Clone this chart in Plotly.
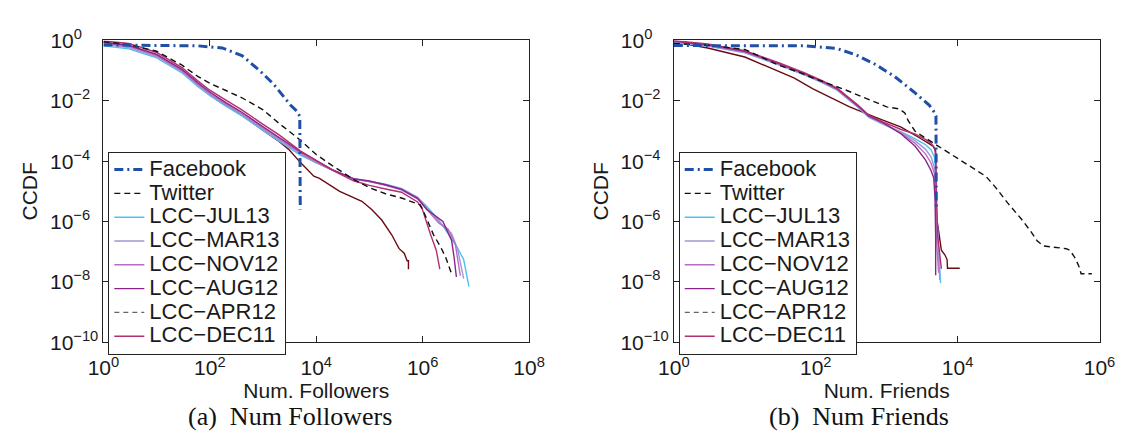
import plotly.graph_objects as go

# ---------------- Panel (a): Num. Followers ----------------
fb_fol_x = [1, 10, 60, 170, 400, 900, 1600, 3300, 4400, 4900, 5000]
fb_fol_y = [0.708, 0.692, 0.661, 0.562, 0.316, 0.0933, 0.0347, 7.08e-3, 4.37e-3, 3.02e-3, 2.51e-6]

tw_fol_x = [1, 3, 10, 30, 60, 100, 200, 400, 1000, 2000, 5000, 1e4, 2e4, 5e4, 1e5, 2e5, 4e5,
            9e5, 1e6, 1.6e6, 2.2e6, 2.7e6, 3.5e6]
tw_fol_y = [0.912, 0.724, 0.437, 0.151, 0.0631, 0.0380, 0.0219, 0.0126, 5.01e-3, 1.78e-3, 5.01e-4,
            1.66e-4, 7.08e-5, 2.51e-5, 1.32e-5, 8.32e-6, 6.03e-6, 3.55e-6, 2.51e-6, 3.63e-7, 1.38e-7,
            6.61e-8, 1.82e-8]

jul13_fol_x = [1, 3, 10, 30, 60, 100, 200, 400, 1000, 2000, 5000, 1e4, 2e4, 5e4, 1e5, 2e5, 4e5, 8e5,
               1.2e6, 2e6, 3e6, 4.4e6, 5.9e6, 6.5e6, 7.4e6]
jul13_fol_y = [0.661, 0.525, 0.263, 0.0832, 0.0295, 0.0148, 6.61e-3, 3.16e-3, 1.05e-3, 4.68e-4, 1.58e-4,
               8.71e-5, 5.01e-5, 2.63e-5, 2.19e-5, 1.74e-5, 1.26e-5, 6.31e-6,
               3.16e-6, 1.12e-6, 3.98e-7, 1.45e-7, 5.50e-8, 2.00e-8, 6.92e-9]

mar13_fol_x = [1, 3, 10, 30, 60, 100, 200, 400, 1000, 2000, 5000, 1e4, 2e4, 5e4, 1e5, 2e5, 4e5, 8e5,
               1.2e6, 2e6, 3.5e6, 4.5e6, 5.9e6]
mar13_fol_y = [0.724, 0.575, 0.288, 0.0912, 0.0324, 0.0162, 7.24e-3, 3.47e-3, 1.15e-3, 5.13e-4, 1.74e-4,
               8.91e-5, 5.01e-5, 2.63e-5, 2.14e-5, 1.66e-5, 1.20e-5, 6.31e-6,
               2.82e-6, 1.00e-6, 3.98e-7, 1.26e-7, 1.29e-8]

nov12_fol_x = [1, 3, 10, 30, 60, 100, 200, 400, 1000, 2000, 5000, 1e4, 2e4, 5e4, 1e5, 2e5, 4e5, 8e5,
               1.2e6, 2e6, 3e6, 4.1e6, 4.6e6, 5.1e6]
nov12_fol_y = [0.794, 0.631, 0.316, 0.100, 0.0355, 0.0178, 7.94e-3, 3.80e-3, 1.26e-3, 5.62e-4, 1.91e-4,
               9.55e-5, 5.01e-5, 2.51e-5, 2.09e-5, 1.58e-5, 1.12e-5, 5.62e-6,
               2.51e-6, 8.91e-7, 5.62e-7, 1.82e-7, 5.01e-8, 1.62e-8]

aug12_fol_x = [1, 3, 10, 30, 60, 100, 200, 400, 1000, 2000, 5000, 1e4, 2e4, 5e4, 1e5, 2e5, 4e5, 8e5,
               1.2e6, 2.4e6, 3.5e6, 3.9e6, 4.3e6]
aug12_fol_y = [0.871, 0.692, 0.347, 0.110, 0.0389, 0.0195, 8.71e-3, 4.17e-3, 1.38e-3, 6.17e-4, 2.09e-4,
               1.05e-4, 5.25e-5, 2.63e-5, 2.19e-5, 1.66e-5, 1.17e-5, 5.89e-6,
               2.51e-6, 1.00e-6, 2.34e-7, 6.31e-8, 1.45e-8]

dec11_fol_x = [1, 3, 10, 30, 60, 100, 200, 400, 1000, 2000, 5000, 1e4, 2e4, 5e4, 1e5, 2e5, 4e5, 8e5,
               9.8e5, 1.4e6, 1.8e6, 2.1e6]
dec11_fol_y = [0.955, 0.794, 0.398, 0.126, 0.0447, 0.0224, 0.0105, 5.01e-3, 1.66e-3, 7.41e-4, 2.19e-4,
               1.02e-4, 5.01e-5, 2.24e-5, 1.58e-5, 1.20e-5, 9.33e-6, 4.47e-6,
               2.63e-6, 3.80e-7, 1.12e-7, 2.63e-8]

apr12_fol_x = [1, 3, 10, 30, 60, 100, 200, 400, 1000, 2000, 3000, 5000, 9000, 1.15e4, 2.75e4, 7.2e4,
               1.1e5, 1.7e5, 2.6e5, 3.6e5, 4.5e5, 5.1e5, 5.4e5, 5.4e5]
apr12_fol_y = [0.851, 0.661, 0.331, 0.0955, 0.0331, 0.0158, 7.08e-3, 3.31e-3, 1.05e-3, 4.47e-4, 2.51e-4,
               9.12e-5, 3.16e-5, 2.69e-5, 1.00e-5, 4.68e-6, 2.51e-6, 1.12e-6, 3.72e-7, 1.26e-7,
               8.91e-8, 5.01e-8, 5.01e-8, 2.63e-8]

# ---------------- Panel (b): Num. Friends ----------------
fb_fri_x = [1, 10, 70, 200, 370, 700, 1300, 2400, 4000, 4700, 4950, 5000]
fb_fri_y = [0.676, 0.676, 0.661, 0.537, 0.331, 0.158, 0.0631, 0.0200, 7.08e-3, 4.17e-3, 3.16e-3, 2.51e-6]

tw_fri_x = [1, 3, 10, 30, 60, 100, 250, 600, 1000, 1500, 1800, 2000, 2500, 3000, 5000, 9500, 1.45e4,
            2.5e4, 3.4e4, 5.1e4, 7.8e4, 1.07e5, 1.32e5, 1.62e5, 3.4e5, 3.8e5, 4.4e5, 5.1e5, 5.5e5, 7.8e5]
tw_fri_y = [0.794, 0.692, 0.501, 0.151, 0.0851, 0.0525, 0.0240, 0.0107, 6.31e-3, 5.37e-3, 3.98e-3,
            2.24e-3, 1.00e-3, 7.41e-4, 3.39e-4, 1.32e-4, 7.08e-5, 3.16e-5, 1.38e-5, 4.07e-6, 1.26e-6,
            4.79e-7, 2.29e-7, 1.55e-7, 1.26e-7, 1.12e-7, 6.92e-8, 3.39e-8, 1.86e-8, 1.86e-8]

jul13_fri_x = [1, 3, 10, 30, 70, 125, 200, 300, 400, 560, 900, 1600, 2500, 3500, 4200, 4700, 4900,
               5000, 5250, 5500, 5750]
jul13_fri_y = [0.851, 0.646, 0.389, 0.155, 0.0708, 0.0389, 0.0224, 0.0105, 5.89e-3, 2.82e-3, 1.66e-3,
               9.33e-4, 5.62e-4, 3.55e-4, 2.40e-4, 1.41e-4, 5.01e-5, 3.16e-6, 3.16e-7, 5.01e-8, 9.12e-9]

mar13_fri_x = [1, 3, 10, 30, 70, 125, 200, 300, 400, 560, 900, 1600, 2500, 3500, 4200, 4700, 4900,
               5250, 5600]
mar13_fri_y = [0.871, 0.661, 0.398, 0.158, 0.0724, 0.0398, 0.0229, 0.0107, 6.03e-3, 2.88e-3, 1.70e-3,
               8.91e-4, 4.79e-4, 2.51e-4, 1.41e-4, 6.31e-5, 1.58e-5, 3.16e-7, 1.15e-8]

nov12_fri_x = [1, 3, 10, 30, 70, 125, 200, 300, 400, 560, 900, 1600, 2500, 3500, 4200, 4700, 4900,
               5100, 5400]
nov12_fri_y = [0.912, 0.692, 0.417, 0.166, 0.0759, 0.0417, 0.0240, 0.0112, 6.31e-3, 3.02e-3, 1.78e-3,
               8.32e-4, 3.98e-4, 1.78e-4, 8.91e-5, 3.98e-5, 1.00e-5, 1.58e-7, 2.00e-8]

aug12_fri_x = [1, 3, 10, 30, 70, 125, 200, 300, 400, 560, 900, 1600, 2500, 3500, 4200, 4600, 4800,
               4900, 4900]
aug12_fri_y = [0.955, 0.724, 0.437, 0.174, 0.0794, 0.0437, 0.0251, 0.0117, 6.61e-3, 3.16e-3, 1.86e-3,
               7.94e-4, 3.16e-4, 1.12e-4, 5.01e-5, 2.82e-5, 6.31e-6, 3.16e-7, 1.66e-8]

dec11_fri_x = [1, 3, 10, 30, 70, 125, 200, 300, 400, 560, 900, 1600, 2500, 3500, 4200, 4700, 4900,
               5000, 5250, 5900]
dec11_fri_y = [0.977, 0.759, 0.457, 0.182, 0.0832, 0.0457, 0.0263, 0.0123, 6.92e-3, 3.31e-3, 1.95e-3,
               1.12e-3, 7.94e-4, 5.25e-4, 3.98e-4, 2.82e-4, 1.58e-4, 1.00e-5, 3.16e-7, 2.69e-8]

apr12_fri_x = [1, 3, 10, 20, 50, 90, 160, 300, 700, 1600, 3000, 4500, 4900, 5000, 5400, 5900, 6600,
               7100, 7200, 10700]
apr12_fri_y = [0.891, 0.562, 0.282, 0.141, 0.0562, 0.0251, 0.0126, 6.31e-3, 2.82e-3, 1.35e-3, 5.62e-4,
               3.16e-4, 2.24e-4, 1.58e-6, 4.79e-7, 1.12e-7, 7.94e-8, 5.50e-8, 2.82e-8, 2.82e-8]

# ---------------- labels / ticks ----------------
legend_labels = ["Facebook", "Twitter", "LCC\u2212JUL13", "LCC\u2212MAR13", "LCC\u2212NOV12",
                 "LCC\u2212AUG12", "LCC\u2212APR12", "LCC\u2212DEC11"]
fol_xticks = [1, 1e2, 1e4, 1e6, 1e8]
fol_xtext = ["10<sup>0</sup>", "10<sup>2</sup>", "10<sup>4</sup>", "10<sup>6</sup>", "10<sup>8</sup>"]
fri_xticks = [1, 1e2, 1e4, 1e6]
fri_xtext = ["10<sup>0</sup>", "10<sup>2</sup>", "10<sup>4</sup>", "10<sup>6</sup>"]
yticks = [1e-10, 1e-8, 1e-6, 1e-4, 1e-2, 1]
ytext = ["10<sup>\u221210</sup>", "10<sup>\u22128&nbsp;&nbsp;</sup>", "10<sup>\u22126&nbsp;&nbsp;</sup>",
         "10<sup>\u22124&nbsp;&nbsp;</sup>", "10<sup>\u22122&nbsp;&nbsp;</sup>",
         "10<sup>0&nbsp;&nbsp;&nbsp;&nbsp;</sup>"]

# ---------------- styles ----------------
C_FB = "#1f4fa6"
C_TW = "#111111"
C_JUL13 = "#4cc3ef"
C_MAR13 = "#a595d6"
C_NOV12 = "#b46fc4"
C_AUG12 = "#8a2488"
C_APR12 = "#6a0b14"
C_DEC11 = "#b0306f"
SANS = "Liberation Sans, Arial, sans-serif"
SERIF = "Liberation Serif, Times New Roman, serif"
LW = 1.4


def lg(label):
    return '<span style="font-size:22px">' + label + '</span>'


fig = go.Figure()

panels = [
    dict(xa="x", ya="y", leg="legend",
         series=[(jul13_fol_x, jul13_fol_y, 2, C_JUL13), (mar13_fol_x, mar13_fol_y, 3, C_MAR13),
                 (nov12_fol_x, nov12_fol_y, 4, C_NOV12), (aug12_fol_x, aug12_fol_y, 5, C_AUG12),
                 (dec11_fol_x, dec11_fol_y, 7, C_DEC11)],
         apr=(apr12_fol_x, apr12_fol_y), tw=(tw_fol_x, tw_fol_y), fb=(fb_fol_x, fb_fol_y)),
    dict(xa="x2", ya="y2", leg="legend2",
         series=[(jul13_fri_x, jul13_fri_y, 2, C_JUL13), (mar13_fri_x, mar13_fri_y, 3, C_MAR13),
                 (nov12_fri_x, nov12_fri_y, 4, C_NOV12), (aug12_fri_x, aug12_fri_y, 5, C_AUG12),
                 (dec11_fri_x, dec11_fri_y, 7, C_DEC11)],
         apr=(apr12_fri_x, apr12_fri_y), tw=(tw_fri_x, tw_fri_y), fb=(fb_fri_x, fb_fri_y)),
]

for p in panels:
    fig.add_trace(go.Scatter(x=p["apr"][0], y=p["apr"][1], mode="lines", xaxis=p["xa"], yaxis=p["ya"],
                             line=dict(color=C_APR12, width=LW), showlegend=False, legend=p["leg"],
                             name=legend_labels[6], hoverinfo="skip"))
    for xs, ys, idx, col in p["series"]:
        fig.add_trace(go.Scatter(x=xs, y=ys, mode="lines", xaxis=p["xa"], yaxis=p["ya"],
                                 line=dict(color=col, width=LW), name=lg(legend_labels[idx]),
                                 legend=p["leg"], legendrank=idx + 1))
    fig.add_trace(go.Scatter(x=[None], y=[None], mode="lines", xaxis=p["xa"], yaxis=p["ya"],
                             line=dict(color="#666666", width=1.3, dash="5px,4px"),
                             name=lg(legend_labels[6]), legend=p["leg"], legendrank=7))
    fig.add_trace(go.Scatter(x=p["tw"][0], y=p["tw"][1], mode="lines", xaxis=p["xa"], yaxis=p["ya"],
                             line=dict(color=C_TW, width=1.4, dash="6px,4px"), name=lg(legend_labels[1]),
                             legend=p["leg"], legendrank=2))
    fig.add_trace(go.Scatter(x=p["fb"][0], y=p["fb"][1], mode="lines", xaxis=p["xa"], yaxis=p["ya"],
                             line=dict(color=C_FB, width=3, dash="9px,4px,2px,4px"),
                             name=lg(legend_labels[0]), legend=p["leg"], legendrank=1))

ydom = [1 - 348 / 441, 1 - 28 / 441]
axis_common = dict(type="log", ticks="inside", ticklen=6, tickwidth=1, tickcolor="#222",
                   showline=True, linecolor="#222", linewidth=1, mirror="ticks",
                   showgrid=False, zeroline=False,
                   tickfont=dict(family=SANS, size=21, color="#1a1a1a"))
title_font = dict(family=SANS, size=21, color="#1a1a1a")

fig.update_layout(
    width=1133, height=441, margin=dict(l=0, r=0, t=0, b=0),
    paper_bgcolor="white", plot_bgcolor="white", showlegend=True,
    xaxis=dict(axis_common, domain=[90 / 1133, 528 / 1133], range=[0, 8], anchor="y",
               tickvals=fol_xticks, ticktext=fol_xtext, ticklabelstandoff=7,
               title=dict(text="Num. Followers", font=title_font, standoff=2)),
    yaxis=dict(axis_common, domain=ydom, range=[-10, 0], anchor="x",
               tickvals=yticks, ticktext=ytext,
               title=dict(text="CCDF", font=title_font, standoff=6)),
    xaxis2=dict(axis_common, domain=[677 / 1133, 1115 / 1133], range=[0, 6], anchor="y2",
                tickvals=fri_xticks, ticktext=fri_xtext, ticklabelstandoff=7,
                title=dict(text="Num. Friends", font=title_font, standoff=2)),
    yaxis2=dict(axis_common, domain=ydom, range=[-10, 0], anchor="x2",
                tickvals=yticks, ticktext=ytext,
                title=dict(text="CCDF", font=title_font, standoff=6)),
    legend=dict(x=95 / 1133, y=1 - 146 / 441, xanchor="left", yanchor="top",
                bgcolor="white", bordercolor="#222", borderwidth=1,
                font=dict(family=SANS, size=16, color="#1a1a1a"), traceorder="normal"),
    legend2=dict(x=682 / 1133, y=1 - 146 / 441, xanchor="left", yanchor="top",
                 bgcolor="white", bordercolor="#222", borderwidth=1,
                 font=dict(family=SANS, size=16, color="#1a1a1a"), traceorder="normal"),
    annotations=[
        dict(text="(a)  Num Followers", x=282 / 1133, y=1 - 427 / 441, xref="paper", yref="paper",
             showarrow=False, xanchor="center", yanchor="middle",
             font=dict(family=SERIF, size=26, color="#111")),
        dict(text="(b)  Num Friends", x=868 / 1133, y=1 - 427 / 441, xref="paper", yref="paper",
             showarrow=False, xanchor="center", yanchor="middle",
             font=dict(family=SERIF, size=26, color="#111")),
    ],
)

fig.write_html("out.html", config={"displayModeBar": False},
               post_script="document.body.style.margin='0';document.body.style.overflow='hidden';")
